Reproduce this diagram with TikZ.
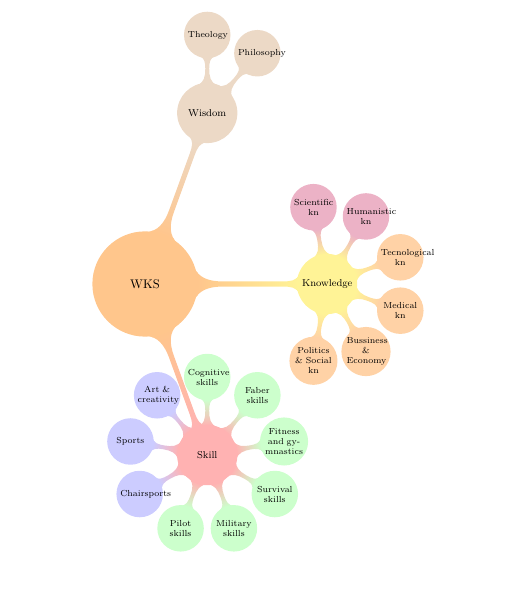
\documentclass[tikz,border=0pt]{standalone}
\usetikzlibrary{mindmap,backgrounds,calc}
\colorlet{cRoot}{orange!45}
\colorlet{cWis}{brown!30}
\definecolor{cKnow}{RGB}{255,243,150}
\colorlet{cPink}{purple!30}
\colorlet{cPeach}{orange!35}
\colorlet{cSkill}{red!30}
\colorlet{cGreen}{green!20}
\colorlet{cBlue}{blue!20}
\begin{document}
\begin{tikzpicture}[x=0.8pt,y=0.8pt,mindmap,text=black,
  rootc/.style={concept,concept color=cRoot,fill=cRoot,text=black,minimum size=83pt,text width=60pt,inner sep=0pt,font=\normalsize,align=center},
  lonec/.style={concept,concept color=#1,fill=#1,text=black,minimum size=47pt,text width=40pt,inner sep=0pt,font=\footnotesize,align=center},
  ltwoc/.style={concept,concept color=#1,fill=#1,text=black,minimum size=36pt,text width=31pt,inner sep=0pt,font=\scriptsize,align=center}]
\useasboundingbox (-145,-318) rectangle (361,284);
% root and level 1
\node[rootc] (wks) at (0,0) {WKS};
\node[lonec=cWis] (wis) at (70:182) {Wisdom};
\node[lonec=cKnow] (know) at (0:182) {Knowledge};
\node[lonec=cSkill] (skill) at (-70:182) {Skill};
% wisdom children
\node[ltwoc=cWis] (theo) at ($(wis)+(90:78)$) {Theology};
\node[ltwoc=cWis] (phil) at ($(wis)+(50:78)$) {Philosophy};
% knowledge children
\node[ltwoc=cPink] (sci) at ($(know)+(100:78)$) {Scientific\\kn};
\node[ltwoc=cPink] (hum) at ($(know)+(60:78)$) {Humanistic\\kn};
\node[ltwoc=cPeach] (tec) at ($(know)+(20:78)$) {Tecnological\\kn};
\node[ltwoc=cPeach] (med) at ($(know)+(-20:78)$) {Medical\\kn};
\node[ltwoc=cPeach] (bus) at ($(know)+(-60:78)$) {Bussiness\\\&\\Economy};
\node[ltwoc=cPeach] (pol) at ($(know)+(-100:78)$) {Politics\\\makebox[\linewidth]{\& Social}\\kn};
% skill children
\node[ltwoc=cGreen] (cog) at ($(skill)+(90:78)$) {Cognitive\\skills};
\node[ltwoc=cGreen] (fab) at ($(skill)+(50:78)$) {Faber\\skills};
\node[ltwoc=cGreen] (fit) at ($(skill)+(10:78)$) {Fitness\\and gy-\\mnastics};
\node[ltwoc=cGreen] (sur) at ($(skill)+(-30:78)$) {Survival\\skills};
\node[ltwoc=cGreen] (mil) at ($(skill)+(-70:78)$) {Military\\skills};
\node[ltwoc=cGreen] (pil) at ($(skill)+(-110:78)$) {Pilot\\skills};
\node[ltwoc=cBlue] (chair) at ($(skill)+(-150:78)$) {Chairsports};
\node[ltwoc=cBlue] (spo) at ($(skill)+(170:78)$) {Sports};
\node[ltwoc=cBlue] (art) at ($(skill)+(130:78)$) {Art \&\\creativity};
% connections
\begin{scope}[on background layer]
\path (wks) to[circle connection bar switch color=from (cRoot) to (cWis)] (wis);
\path (wks) to[circle connection bar switch color=from (cRoot) to (cKnow)] (know);
\path (wks) to[circle connection bar switch color=from (cRoot) to (cSkill)] (skill);
\path (wis) to[circle connection bar switch color=from (cWis) to (cWis)] (theo);
\path (wis) to[circle connection bar switch color=from (cWis) to (cWis)] (phil);
\path (know) to[circle connection bar switch color=from (cKnow) to (cPink)] (sci);
\path (know) to[circle connection bar switch color=from (cKnow) to (cPink)] (hum);
\path (know) to[circle connection bar switch color=from (cKnow) to (cPeach)] (tec);
\path (know) to[circle connection bar switch color=from (cKnow) to (cPeach)] (med);
\path (know) to[circle connection bar switch color=from (cKnow) to (cPeach)] (bus);
\path (know) to[circle connection bar switch color=from (cKnow) to (cPeach)] (pol);
\path (skill) to[circle connection bar switch color=from (cSkill) to (cGreen)] (cog);
\path (skill) to[circle connection bar switch color=from (cSkill) to (cGreen)] (fab);
\path (skill) to[circle connection bar switch color=from (cSkill) to (cGreen)] (fit);
\path (skill) to[circle connection bar switch color=from (cSkill) to (cGreen)] (sur);
\path (skill) to[circle connection bar switch color=from (cSkill) to (cGreen)] (mil);
\path (skill) to[circle connection bar switch color=from (cSkill) to (cGreen)] (pil);
\path (skill) to[circle connection bar switch color=from (cSkill) to (cBlue)] (chair);
\path (skill) to[circle connection bar switch color=from (cSkill) to (cBlue)] (spo);
\path (skill) to[circle connection bar switch color=from (cSkill) to (cBlue)] (art);
\end{scope}
\end{tikzpicture}
\end{document}
